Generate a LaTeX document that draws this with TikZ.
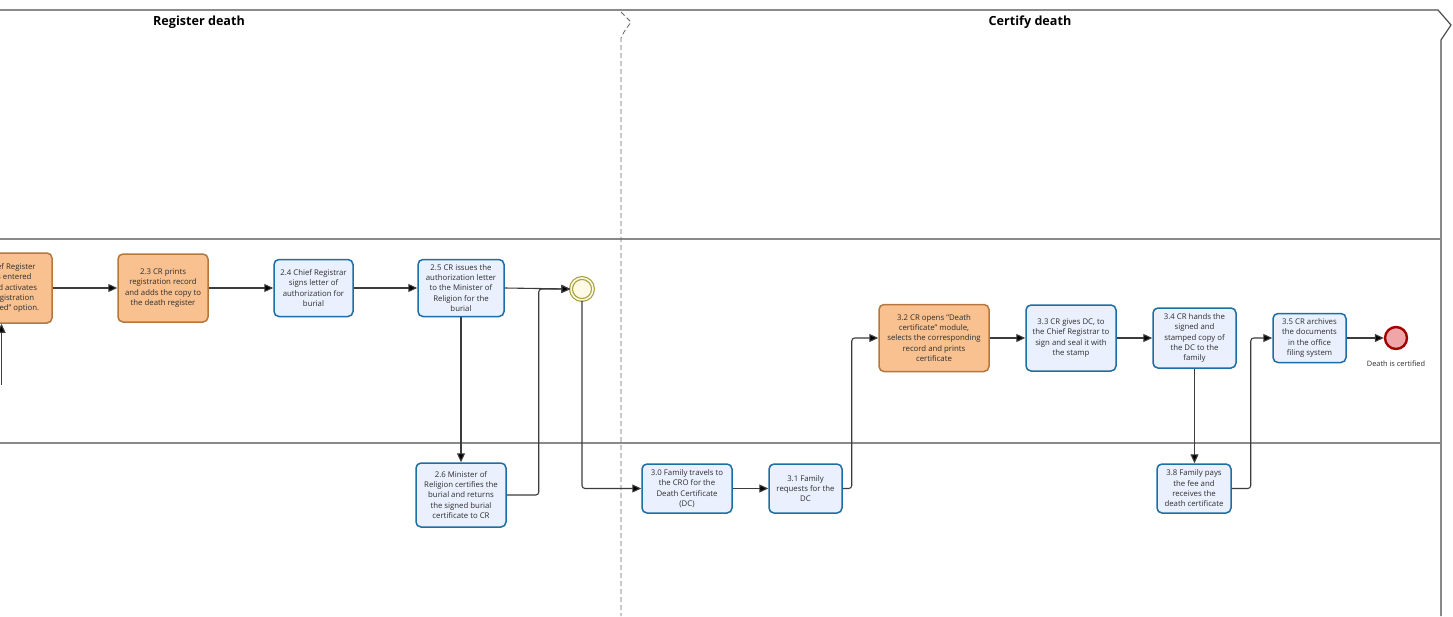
\documentclass[tikz,border=0pt]{standalone}
\usepackage{fontspec}
\setmainfont{Open Sans}
\usetikzlibrary{arrows.meta}
\definecolor{taskblue}{HTML}{1C6EA4}
\definecolor{taskbluefill}{HTML}{EAF0FD}
\definecolor{taskorange}{HTML}{B5773F}
\definecolor{taskorangefill}{HTML}{F8C18F}
\definecolor{flowgray}{HTML}{3C3C3C}
\definecolor{lanegray}{HTML}{8A8A8A}
\definecolor{txtgray}{HTML}{2E2E2E}
\definecolor{evgold}{HTML}{A89F3C}
\definecolor{evfill}{HTML}{FFFAE6}
\definecolor{endred}{HTML}{A30000}
\definecolor{endfill}{HTML}{F0A6A8}
\tikzset{
  task/.style={rectangle, rounded corners=5pt, line width=1.5pt, align=center,
    inner sep=1pt, text=txtgray, font=\fontsize{7.8}{10.3}\selectfont},
  bluetask/.style={task, draw=taskblue, fill=taskbluefill},
  orangetask/.style={task, draw=taskorange, fill=taskorangefill},
  flow/.style={draw=flowgray, line width=1.1pt, rounded corners=3pt,
    -{Triangle[length=9pt,width=8pt,fill=black]}},
  lane/.style={draw=lanegray, line width=1.3pt},
  lanetitle/.style={font=\fontsize{12.6}{14}\selectfont\bfseries, text=black},
  midevent/.style={circle, draw=evgold, fill=evfill, line width=1.2pt,
    minimum size=22pt, inner sep=0pt, double=evfill, double distance=1.6pt},
  endevent/.style={circle, draw=endred, fill=endfill, line width=2.4pt,
    minimum size=22pt, inner sep=0pt},
  evlabel/.style={font=\fontsize{7.4}{9}\selectfont, text=txtgray}
}
\begin{document}
\begin{tikzpicture}[x=1pt, y=-1pt]
\useasboundingbox (0,0) rectangle (1453,616);
\clip (0,0) rectangle (1453,616);
\fill[white] (0,0) rectangle (1453,616);

% pool frame and lanes
\draw[draw=black!70, line width=1.2pt] (0,10) -- (1438,10) -- (1451,25) -- (1441,40) -- (1441,616);
\draw[lane] (0,239) -- (1441,239);
\draw[lane] (0,443) -- (1441,443);
% phase separator
\draw[draw=black!60, line width=0.8pt, dash pattern=on 5pt off 3pt]
  (621,12) -- (631,22) -- (624,32) -- (621,38) -- (621,616);

\node[lanetitle] (ph1) at (199,22.5) {Register death};
\node[lanetitle] (ph2) at (1030,22.5) {Certify death};

% tasks
\node[orangetask, minimum width=96pt, minimum height=70pt] (t22) at (4,288)
  {2.2 Chief Register\\checks entered\\data and activates\\the ``Registration\\Completed'' option.};
\node[orangetask, minimum width=90pt, minimum height=68pt] (t23) at (163,288)
  {2.3 CR prints\\registration record\\and adds the copy to\\the death register};
\node[bluetask, minimum width=79pt, minimum height=57pt] (t24) at (313.5,288)
  {2.4 Chief Registrar\\signs letter of\\authorization for\\burial};
\node[bluetask, minimum width=86pt, minimum height=57pt] (t25) at (461,288)
  {2.5 CR issues the\\authorization letter\\to the Minister of\\Religion for the\\burial};
\node[midevent] (ev) at (582,289) {};
\node[bluetask, minimum width=90pt, minimum height=64pt] (t26) at (461,495)
  {2.6 Minister of\\Religion certifies the\\burial and returns\\the signed burial\\certificate to CR};
\node[bluetask, minimum width=90pt, minimum height=49pt] (t30) at (687,488.5)
  {3.0 Family travels to\\the CRO for the\\Death Certificate\\(DC)};
\node[bluetask, minimum width=73pt, minimum height=49pt] (t31) at (805.5,488.5)
  {3.1 Family\\requests for the\\DC};
\node[orangetask, minimum width=110pt, minimum height=67pt] (t32) at (934,338)
  {3.2 CR opens "Death\\certificate" module,\\selects the corresponding\\record and prints\\certificate};
\node[bluetask, minimum width=90pt, minimum height=66pt] (t33) at (1071,338)
  {3.3 CR gives DC, to\\the Chief Registrar to\\sign and seal it with\\the stamp};
\node[bluetask, minimum width=83pt, minimum height=60pt] (t34) at (1194.5,338)
  {3.4 CR hands the\\signed and\\stamped copy of\\the DC to the\\family};
\node[bluetask, minimum width=73pt, minimum height=49pt] (t35) at (1309.5,338)
  {3.5 CR archives\\the documents\\in the office\\filing system};
\node[endevent] (end) at (1396,338) {};
\node[evlabel, anchor=north] (endlbl) at ([yshift=-7pt]end.south) {Death is certified};
\node[bluetask, minimum width=74pt, minimum height=49pt] (t38) at (1194,488.5)
  {3.8 Family pays\\the fee and\\receives the\\death certificate};

% sequence flows
\coordinate (in22) at (1.5,385);
\draw[flow] (in22) -- (in22 |- t22.south);
\draw[flow] (t22.east) -- (t23.west);
\draw[flow] (t23.east) -- (t24.west);
\draw[flow] (t24.east) -- (t25.west);
\draw[flow] (t25.east) -- (ev.west);
\draw[flow] (t25.south) -- (t26.north);
\draw[flow] (t26.east) -- ++(32,0) |- (ev.west);
\draw[flow] (ev.south) |- (t30.west);
\draw[flow] (t30.east) -- (t31.west);
\draw[flow] (t31.east) -- ++(9,0) |- (t32.west);
\draw[flow] (t32.east) -- (t33.west);
\draw[flow] (t33.east) -- (t34.west);
\draw[flow] (t34.south) -- (t34.south |- t38.north);
\draw[flow] (t38.east) -- ++(19,0) |- (t35.west);
\draw[flow] (t35.east) -- (end.west);
\end{tikzpicture}
\end{document}
